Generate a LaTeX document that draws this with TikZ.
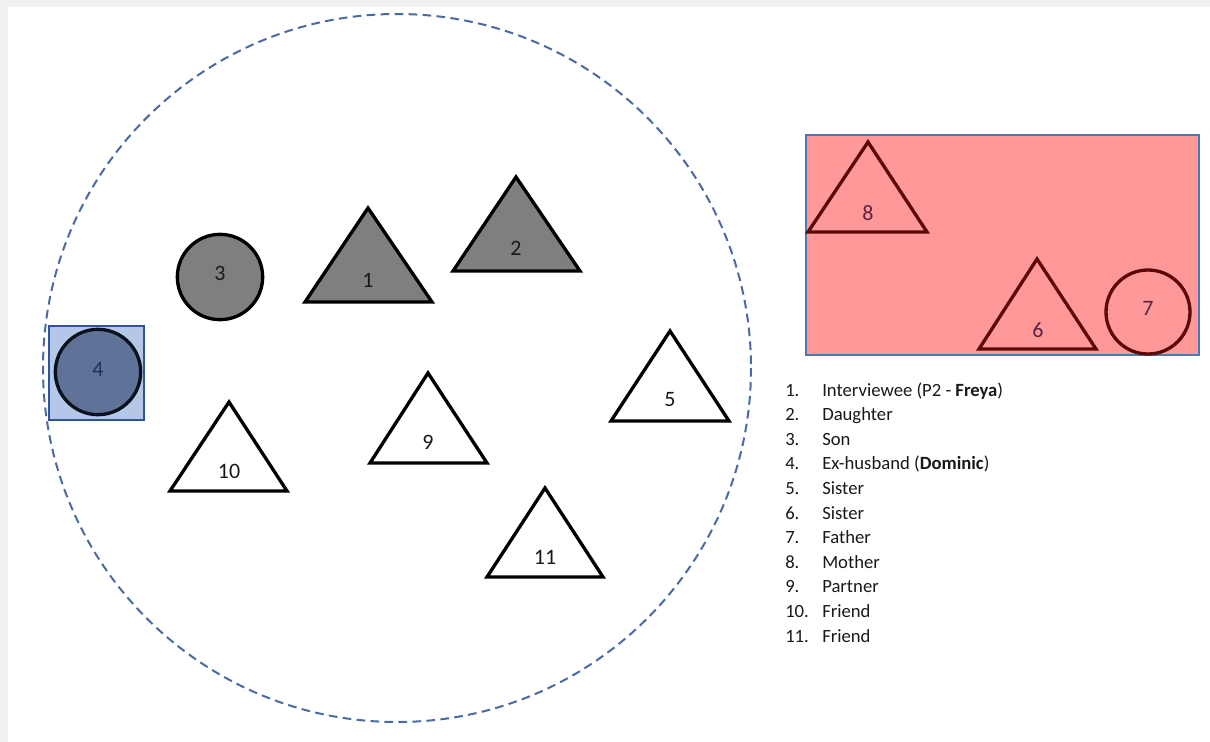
\documentclass[tikz,border=0pt]{standalone}
\usepackage{fontspec}
\setmainfont{Carlito}
\usepackage{xcolor}
\definecolor{ringblue}{HTML}{4A6AA6}
\definecolor{shade}{HTML}{7F7F7F}
\definecolor{exfill}{HTML}{B4C7E7}
\definecolor{exedge}{HTML}{2F5597}
\definecolor{excore}{HTML}{5F7398}
\definecolor{famfill}{HTML}{FF9999}
\definecolor{famedge}{HTML}{5C0808}
\definecolor{famtext}{HTML}{5A2346}
\definecolor{boxedge}{HTML}{4A78B0}
\usetikzlibrary{shapes}

\begin{document}
\begin{tikzpicture}[x=0.75pt,y=-0.75pt,
	member/.style={draw=black,line width=2.5pt,line join=miter},
	family/.style={draw=famedge,line width=2.5pt,line join=miter},
	num/.style={font=\fontsize{16.5}{19}\selectfont,text=black!90},
	famnum/.style={font=\fontsize{16.5}{19}\selectfont,text=famtext},
	legend/.style={anchor=base west,inner sep=0pt,font=\fontsize{14}{17}\selectfont,text=black!90}]
	\useasboundingbox (0,0) rectangle (1210,742);
	\fill[black!6] (0,0) rectangle (1210,742);
	\fill[white] (8,7) rectangle (1210,742);
	%
	\draw[ringblue,line width=1.5pt,dash pattern=on 6.5pt off 4pt] (397,368) circle [radius=354];
	%
	\draw[member,fill=shade] (305,302) -- (368,208) -- (432,302) -- cycle;
	\draw[member,fill=shade] (453,271) -- (516,177) -- (580,271) -- cycle;
	\node[circle,member,fill=shade,minimum size=64pt] (c3) at (220,277) {};
	\draw[exedge,line width=1.5pt,fill=exfill] (49,326) rectangle (144,420);
	\node[circle,draw=black!80!exedge,line width=2.5pt,fill=excore,minimum size=64pt] (c4) at (98,372) {};
	\draw[member,fill=white] (611,421) -- (670,331) -- (729,421) -- cycle;
	\draw[member,fill=white] (370,463) -- (428,373) -- (487,463) -- cycle;
	\draw[member,fill=white] (170,491) -- (229,402) -- (287,491) -- cycle;
	\draw[member,fill=white] (487,577) -- (545,488) -- (603,577) -- cycle;
	%
	\node[num] (p1) at (368,280) {1};
	\node[num] (p2) at (516,248) {2};
	\node[num] (p3) at (220,273) {3};
	\node[num,text=exedge!60!black] (p4) at (98,369) {4};
	\node[num] (p5) at (670,400) {5};
	\node[num] (p9) at (428,442) {9};
	\node[num] (p10) at (229,471) {10};
	\node[num] (p11) at (545,557) {11};
	%
	\draw[boxedge,line width=1.5pt,fill=famfill] (806,135) rectangle (1199,355);
	\draw[family] (808,232) -- (868,142) -- (927,232) -- cycle;
	\draw[family] (979,349) -- (1037,259) -- (1096,349) -- cycle;
	\node[circle,family,minimum size=63pt] (c7) at (1148,312) {};
	\node[famnum] (p8) at (868,213) {8};
	\node[famnum] (p6) at (1038,330) {6};
	\node[famnum] (p7) at (1148,308) {7};
	%
	\foreach \who [count=\i] in {{Interviewee (P2 - \textbf{Freya})},Daughter,Son,
		{Ex-husband (\textbf{Dominic})},Sister,Sister,Father,Mother,Partner,Friend,Friend}{
		\node[legend] (n\i) at (785,396+24.6*\i-24.6) {\i.};
		\node[legend] (l\i) at (822,396+24.6*\i-24.6) {\who};
	}
\end{tikzpicture}
\end{document}
